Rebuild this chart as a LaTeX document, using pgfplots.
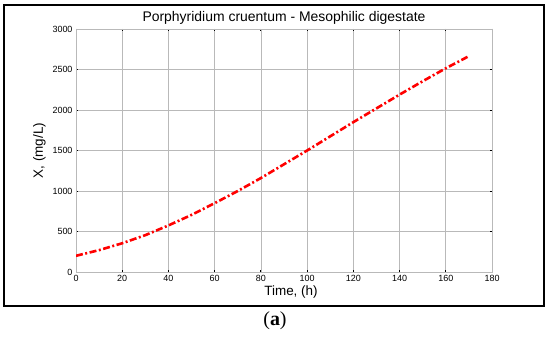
\documentclass[border=0pt]{standalone}
\usepackage{pgfplots}
\pgfplotsset{compat=1.18}
\usepackage{fontspec}
\setmainfont{Liberation Sans}
\newfontfamily\capfont{Liberation Serif}
\begin{document}
\begin{tikzpicture}[x=1bp,y=1bp]
\path[use as bounding box] (0,0) rectangle (550,337);
\draw[line width=1.8bp] (4,332) rectangle (544,31);
\begin{axis}[
  at={(76bp,65bp)}, anchor=south west,
  width=416bp, height=243bp, scale only axis=true,
  xmin=0, xmax=180, ymin=0, ymax=3000,
  xtick={0,20,...,180}, ytick={0,500,...,3000},
  grid=major, major grid style={gray!55, line width=0.6bp},
  axis line style={gray!55, line width=0.6bp},
  tick align=inside, major tick length=2bp,
  tick style={black, line width=0.8bp},
  /pgf/number format/assume math mode=true,
  /pgf/number format/1000 sep={},
  ticklabel style={font=\fontsize{9}{10}\selectfont},
  title={Porphyridium cruentum - Mesophilic digestate},
  title style={font=\fontsize{14}{16}\selectfont, yshift=-5bp},
  xlabel={Time, (h)}, ylabel={X, (mg/L)},
  xlabel style={font=\fontsize{13.5}{15}\selectfont, xshift=7bp, yshift=3bp},
  ylabel style={font=\fontsize{13.5}{15}\selectfont, yshift=0bp},
]
\addplot[red, line width=2.6bp, dash pattern=on 7bp off 2.5bp on 2bp off 2.5bp] coordinates {
(0,200) (10,270) (20,355) (30,455) (40,575) (50,705) (60,850) (70,1000) (80,1160)
(90,1330) (100,1500) (110,1675) (120,1850) (130,2020) (140,2190) (150,2355)
(160,2515) (170,2665)};
\end{axis}
\node at (275,16) {\capfont\fontsize{20}{22}\selectfont (\textbf{a})};
\end{tikzpicture}
\end{document}
